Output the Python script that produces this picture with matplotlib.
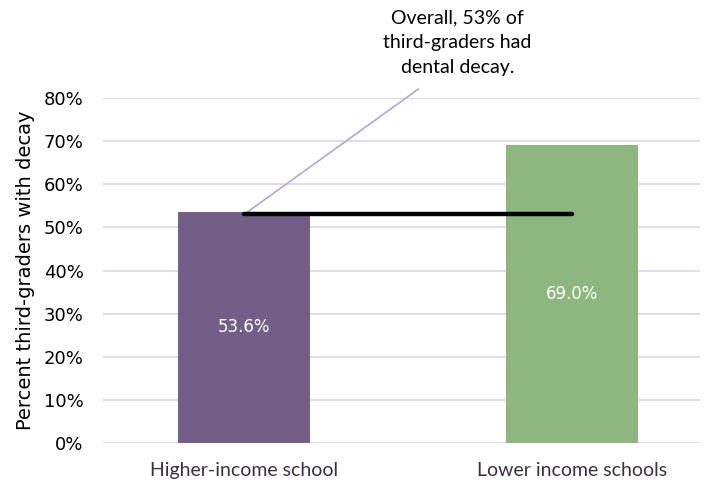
import matplotlib.pyplot as plt

# Data
categories = ["Higher-income school", "Lower income schools"]
values = [0.536, 0.690]
bar_labels = ["53.6%", "69.0%"]
overall = 0.53
yticks = [0, 0.1, 0.2, 0.3, 0.4, 0.5, 0.6, 0.7, 0.8]
colors = ["#735E87", "#8DB77F"]

fig = plt.figure(figsize=(7.07, 4.87), dpi=100)
ax = fig.add_axes([0.1457, 0.0903, 0.8443, 0.7085])

x = range(len(categories))
ax.bar(x, values, width=0.40, color=colors, zorder=2)
for i, v in enumerate(values):
    ax.text(i, v / 2, bar_labels[i], ha="center", va="center", color="white",
            fontsize=12, zorder=3)

# overall line
ax.plot([0, 1], [overall, overall], color="black", lw=3.2, solid_capstyle="round", zorder=4)

# annotation: callout text plus leader line
ax.text(0.651, 1.005, "Overall, 53% of\nthird-graders had\ndental decay.", ha="center", va="top",
        fontsize=14, family="Lato", linespacing=1.55, clip_on=False)
ax.annotate("", xy=(0, overall), xytext=(0.532, 0.821), annotation_clip=False,
            arrowprops=dict(arrowstyle="-", color="#B4A7D0", lw=1.2, shrinkA=0, shrinkB=0))

ax.set_xlim(-0.43, 1.39)
ax.set_ylim(0, 0.8)
ax.set_yticks(yticks)
ax.set_yticklabels([f"{int(round(t * 100))}%" for t in yticks], fontsize=13)
ax.set_xticks(list(x))
ax.set_xticklabels(categories, fontsize=14, family="Lato", color="#3A3042")
ax.tick_params(length=0)
ax.tick_params(axis="y", pad=14)
ax.tick_params(axis="x", pad=14)
ax.grid(axis="y", color="#E2DCE8", lw=1.5, zorder=0)
ax.set_axisbelow(True)
for s in ax.spines.values():
    s.set_visible(False)
ax.set_ylabel("Percent third-graders with decay", fontsize=14, labelpad=6)

fig.savefig("out.png", dpi=100)
